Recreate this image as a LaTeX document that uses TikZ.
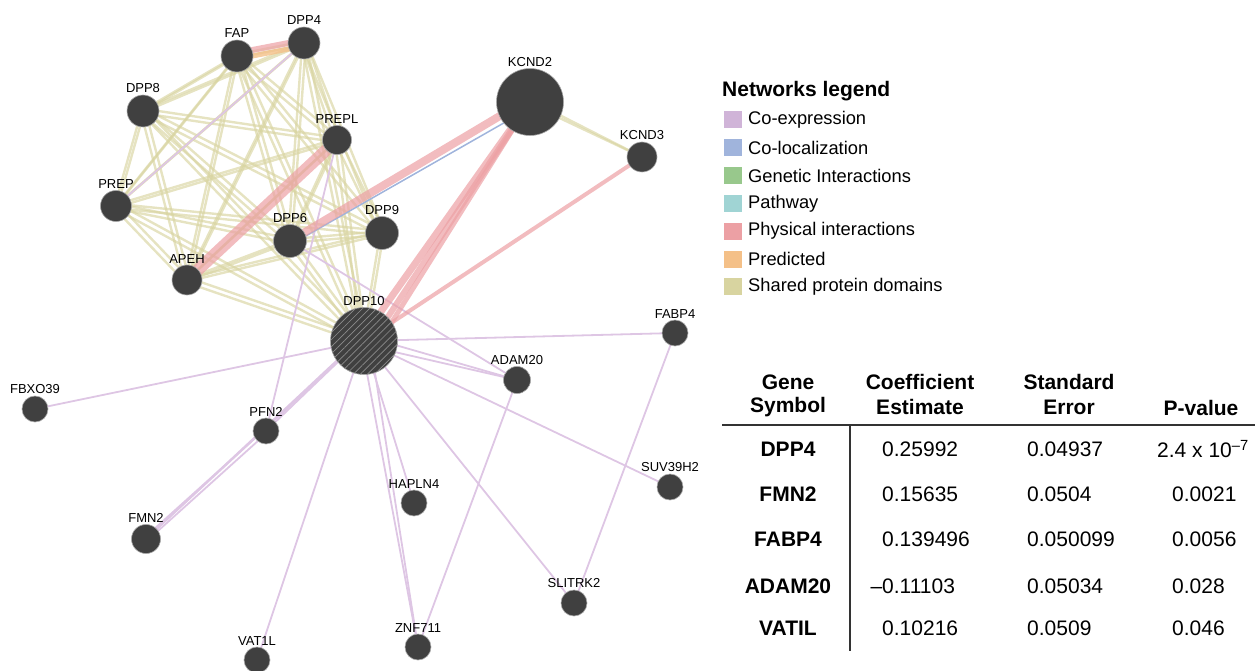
\documentclass[tikz,border=0pt]{standalone}
\usepackage{fontspec}
\setmainfont{Liberation Sans}
\usetikzlibrary{backgrounds,patterns.meta}

\definecolor{nodegray}{RGB}{64,64,64}
\definecolor{coexp}{RGB}{208,180,216}
\definecolor{coexline}{RGB}{222,198,228}
\definecolor{coloc}{RGB}{160,180,220}
\definecolor{genetic}{RGB}{152,200,140}
\definecolor{pathway}{RGB}{160,212,212}
\definecolor{physical}{RGB}{236,160,164}
\definecolor{predicted}{RGB}{244,192,136}
\definecolor{shared}{RGB}{216,212,160}

\tikzset{
  gene/.style={circle, fill=nodegray, draw=gray!70, line width=0.6pt, inner sep=0pt, minimum size=#1},
  every label/.style={font=\fontsize{13}{14}\selectfont, inner sep=1.5pt},
  shareedge/.style={shared, line width=2.4pt, opacity=0.65},
  coexedge/.style={coexline, line width=1.8pt},
  physedge/.style={physical, line width=#1, opacity=0.7},
  swatch/.style={rectangle, minimum width=18pt, minimum height=17pt, inner sep=0pt},
  legendtext/.style={anchor=west, font=\fontsize{18.3}{20}\selectfont, inner sep=0pt},
  tabhead/.style={font=\fontsize{21}{22}\selectfont\bfseries, inner sep=0pt},
  tabcell/.style={font=\fontsize{21}{22}\selectfont, inner sep=0pt, anchor=west}
}

\begin{document}
\begin{tikzpicture}[x=1pt,y=-1pt]
	\useasboundingbox (0,0) rectangle (1255,671);

	% genes
	\node[gene=32, label=above:FAP]     (fap)     at (237,56)  {};
	\node[gene=32, label=above:DPP4]    (dpp4)    at (304,43)  {};
	\node[gene=32, label=above:DPP8]    (dpp8)    at (143,111) {};
	\node[gene=29, label=above:PREPL]   (prepl)   at (337,140) {};
	\node[gene=31, label=above:PREP]    (prep)    at (116,206) {};
	\node[gene=33, label=above:DPP6]    (dpp6)    at (290,241) {};
	\node[gene=33, label=above:DPP9]    (dpp9)    at (382,233) {};
	\node[gene=30, label=above:APEH]    (apeh)    at (187,280) {};
	\node[gene=67, label=above:DPP10,
	      postaction={pattern={Lines[angle=45,distance=5pt,line width=0.7pt]}, pattern color=black!45}]
	                                    (dpp10)   at (364,341) {};
	\node[gene=67, label=above:KCND2]   (kcnd2)   at (530,102) {};
	\node[gene=30, label=above:KCND3]   (kcnd3)   at (642,157) {};
	\node[gene=26, label=above:FABP4]   (fabp4)   at (675,333) {};
	\node[gene=27, label=above:ADAM20]  (adam20)  at (517,380) {};
	\node[gene=26, label=above:FBXO39]  (fbxo39)  at (35,409)  {};
	\node[gene=26, label=above:PFN2]    (pfn2)    at (266,431) {};
	\node[gene=26, label=above:SUV39H2] (suv39h2) at (670,487) {};
	\node[gene=26, label=above:HAPLN4]  (hapln4)  at (414,503) {};
	\node[gene=29, label=above:FMN2]    (fmn2)    at (146,539) {};
	\node[gene=26, label=above:SLITRK2] (slitrk2) at (574,603) {};
	\node[gene=26, label=above:ZNF711]  (znf711)  at (418,647) {};
	\node[gene=26, label=above:VAT1L]   (vat1l)   at (257,660) {};

	\begin{scope}[on background layer]
		% shared protein domains
		\foreach \a [count=\i] in {fap,dpp4,dpp8,prepl,prep,dpp6,dpp9,apeh,dpp10}
			\foreach \b [count=\j] in {fap,dpp4,dpp8,prepl,prep,dpp6,dpp9,apeh,dpp10}
				{\ifnum\j>\i
					\draw[shareedge] ([shift={(-2pt,-2pt)}]\a.center) -- ([shift={(-2pt,-2pt)}]\b.center);
					\draw[shareedge] ([shift={(2pt,2pt)}]\a.center) -- ([shift={(2pt,2pt)}]\b.center);
				\fi}
		\draw[shareedge] ([yshift=-2pt]kcnd2.center) -- (kcnd3.center);
		\draw[shareedge] ([yshift=2pt]kcnd2.center) -- (kcnd3.center);

		% co-expression
		\foreach \g in {fbxo39,vat1l,hapln4,slitrk2,suv39h2,fabp4}
			\draw[coexedge] (dpp10.center) -- (\g.center);
		\draw[coexedge] ([yshift=4pt]dpp10.center) -- (pfn2.center);
		\draw[coexedge] ([xshift=-4pt]dpp10.center) -- (fmn2.center);
		\draw[coexedge] ([yshift=6pt]dpp10.center) -- (fmn2.center);
		\draw[coexedge] ([xshift=-3pt]dpp10.center) -- (znf711.center);
		\draw[coexedge] ([xshift=6pt]dpp10.center) -- (znf711.center);
		\draw[coexedge] ([yshift=-4pt]dpp10.center) -- (adam20.center);
		\draw[coexedge] ([yshift=5pt]dpp10.center) -- (adam20.center);
		\draw[coexedge] ([xshift=-3pt]pfn2.center) -- ([xshift=-3pt]fmn2.center);
		\draw[coexedge] ([xshift=3pt]pfn2.center) -- ([xshift=3pt]fmn2.center);
		\draw[coexedge] (adam20.center) -- (znf711.center);
		\draw[coexedge] (fabp4.center) -- (slitrk2.center);
		\draw[coexedge] (dpp6.center) -- (adam20.center);
		\draw[coexedge] (pfn2.center) -- (prepl.center);
		\draw[coexedge] (dpp4.center) -- (prep.center);

		% co-localization
		\draw[coloc, line width=1.5pt] ([yshift=-6pt]kcnd2.center) -- ([yshift=-4pt]dpp6.center);

		% predicted
		\draw[predicted, line width=5pt, opacity=0.8] ([yshift=-3pt]fap.center) -- ([yshift=-3pt]dpp4.center);

		% physical interactions
		\draw[physedge=6pt] ([yshift=3pt]fap.center) -- ([yshift=3pt]dpp4.center);
		\draw[physedge=12pt] (prepl.center) -- (apeh.center);
		\draw[physedge=8pt] ([yshift=4pt]kcnd2.center) -- (dpp6.center);
		\draw[physedge=7pt] (kcnd2.center) -- ([xshift=-4pt]dpp10.center);
		\draw[physedge=6pt] (kcnd2.center) -- ([xshift=8pt]dpp10.center);
		\draw[physedge=5pt] (kcnd2.center) -- ([xshift=16pt]dpp10.center);
		\draw[physedge=4pt] (kcnd3.center) -- (dpp10.center);
	\end{scope}

	% legend
	\node[anchor=west, inner sep=0pt, font=\fontsize{21}{22}\selectfont\bfseries] (legtitle) at (722,91) {Networks legend};
	\foreach \c/\t [count=\k] in {coexp/Co-expression, coloc/Co-localization, genetic/Genetic Interactions,
		pathway/Pathway, physical/Physical interactions, predicted/Predicted, shared/Shared protein domains}
	{
		\node[swatch, fill=\c] (sw\k) at (733,92.2+27.8*\k) {};
		\node[legendtext] (lg\k) at (748,92.2+27.8*\k) {\t};
	}

	% table
	\node[tabhead] (h1a) at (788,382) {Gene};
	\node[tabhead] (h1b) at (788,407) {Symbol};
	\node[tabhead] (h2a) at (920,382) {Coefficient};
	\node[tabhead] (h2b) at (920,407) {Estimate};
	\node[tabhead] (h3a) at (1069,382) {Standard};
	\node[tabhead] (h3b) at (1069,407) {Error};
	\node[tabhead] (h4)  at (1201,408) {P-value};
	\coordinate (rulel) at (722,425);
	\coordinate (ruler) at (1255,425);
	\coordinate (vtop) at (850,425);
	\coordinate (vbot) at (850,651);
	\draw[line width=1.2pt, black!80] (rulel) -- (ruler);
	\draw[line width=1.2pt, black!80] (vtop) -- (vbot);

	\foreach \g/\c/\s/\y [count=\r] in {
		DPP4/0.25992/0.04937/449,
		FMN2/0.15635/0.0504/494,
		FABP4/0.139496/0.050099/539,
		ADAM20/{\llap{–}0.11103}/0.05034/586,
		VATIL/0.10216/0.0509/628}
	{
		\node[tabhead] (g\r) at (788,\y) {\g};
		\node[tabcell] (c\r) at (882,\y) {\c};
		\node[tabcell] (s\r) at (1027,\y) {\s};
	}
	\node[tabcell] (p1) at (1157,449) {2.4 x 10\textsuperscript{–7}};
	\node[tabcell] (p2) at (1172,494) {0.0021};
	\node[tabcell] (p3) at (1172,539) {0.0056};
	\node[tabcell] (p4) at (1172,586) {0.028};
	\node[tabcell] (p5) at (1172,628) {0.046};
\end{tikzpicture}
\end{document}
